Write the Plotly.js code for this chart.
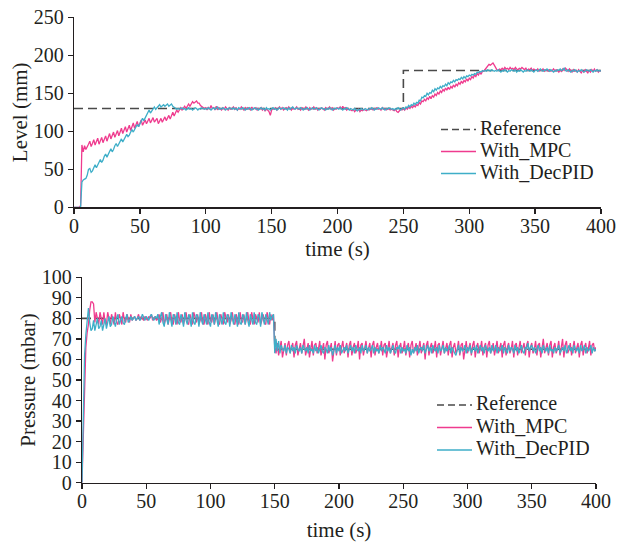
<!DOCTYPE html>
<html>
<head>
<meta charset="utf-8">
<script src="https://cdn.plot.ly/plotly-3.0.1.min.js"></script>
<style>html,body{margin:0;padding:0;background:#fff}#chart{width:618px;height:543px}</style>
</head>
<body>
<div id="chart"></div>
<script>
// Time sampling: 1 s, from 0 to 400 s
const seriesNames = ["Reference", "With_MPC", "With_DecPID"];
const xTicks = [0, 50, 100, 150, 200, 250, 300, 350, 400];

// Level reference (mm)
const refLevelT = [0, 250, 250, 400];
const refLevelV = [130, 130, 180, 180];

// Level with MPC (mm), t = 0..400 s
const levelMPC = [
0,0,0,0,0,2,82,73,81,76,
79,83,87,80,84,89,82,86,91,83,
88,92,85,90,94,87,92,97,90,94,
99,92,97,101,94,99,104,97,101,106,
99,104,108,101,106,111,104,108,113,106,
110,115,108,112,115,110,113,117,111,115,
118,112,114,117,110,113,117,112,115,119,
114,118,121,116,120,125,120,124,128,125,
128,131,128,130,133,130,133,136,133,136,
139,137,139,140,137,137,134,133,131,130,
131,128,132,129,134,130,131,128,133,129,
131,130,128,131,129,132,130,128,131,129,
130,132,129,131,128,130,129,132,130,128,
131,129,131,130,128,132,129,130,131,128,
130,129,131,128,130,127,129,128,126,121,
128,130,129,131,128,130,132,129,131,128,
130,131,129,132,130,128,131,129,130,132,
129,130,128,131,130,129,132,130,128,131,
129,130,132,129,131,128,130,129,131,130,
128,131,129,130,132,129,131,128,130,129,
131,130,132,129,133,130,131,128,130,129,
128,127,129,126,128,127,129,126,128,127,
129,128,127,129,128,130,129,128,130,129,
131,129,130,128,131,129,130,128,129,130,
128,129,128,127,129,126,125,127,129,128,
130,128,131,129,132,130,133,131,134,132,
135,134,138,136,140,139,142,140,144,142,
146,143,147,145,149,147,151,149,153,151,
155,153,157,154,158,155,159,157,161,158,
162,160,164,162,166,163,167,165,169,166,
170,168,172,170,174,172,176,174,178,175,
179,179,181,183,186,188,187,189,190,187,
184,181,180,182,181,183,181,184,182,183,
181,184,182,183,181,184,182,181,183,182,
184,182,181,183,180,182,181,183,180,182,
181,180,182,179,181,180,182,179,181,180,
179,181,179,180,182,179,181,180,178,181,
179,182,180,183,181,179,182,180,178,181,
179,180,178,181,179,177,180,178,181,179,
177,180,178,181,179,182,179,181,178,180,
179];

// Level with DecPID (mm), t = 0..400 s
const levelPID = [
0,0,0,0,0,0,33,36,37,38,
42,50,51,46,48,53,56,52,55,60,
63,59,62,67,70,66,69,74,77,73,
76,81,84,80,83,88,90,86,89,93,
96,93,95,99,102,99,102,106,109,106,
110,114,117,114,118,122,126,128,124,127,
130,132,129,131,134,135,132,134,135,133,
135,136,133,135,136,133,132,131,129,130,
129,130,131,129,130,128,130,131,129,130,
128,129,131,130,128,130,129,131,130,129,
130,129,131,130,128,130,131,129,130,132,
129,130,129,131,130,128,130,129,131,130,
129,131,129,130,128,131,130,129,131,130,
128,130,129,131,130,128,130,131,129,130,
128,130,131,129,130,128,131,129,130,128,
130,131,129,130,128,130,131,129,130,131,
129,130,128,131,129,130,132,130,129,131,
130,129,131,130,128,130,129,131,130,128,
130,131,129,130,131,129,128,130,131,129,
130,128,130,129,131,130,128,130,129,131,
130,129,131,130,128,130,129,131,130,128,
130,129,128,130,129,127,129,128,130,129,
128,130,129,128,130,129,131,130,128,130,
129,131,130,129,131,130,128,130,129,131,
130,129,130,128,130,129,131,129,128,130,
131,129,132,131,134,132,135,134,137,135,
138,137,141,140,145,144,147,146,150,148,
151,150,154,152,156,154,157,156,159,157,
160,159,162,160,164,162,165,164,167,165,
168,167,169,168,171,169,172,170,173,172,
174,173,175,174,176,175,178,177,179,178,
180,179,180,179,181,180,179,181,180,179,
180,179,181,180,178,180,179,181,180,178,
180,179,181,180,179,181,178,180,179,181,
180,178,180,179,181,180,179,181,180,178,
180,181,179,180,182,180,179,181,180,182,
181,179,181,180,178,180,179,181,180,182,
180,181,183,180,179,181,180,178,180,179,
181,180,178,180,179,181,180,178,179,181,
180,179,181,180,178,180,179,181,179,180,
179];

// Pressure reference (mbar)
const refPresT = [0, 150, 150, 400];
const refPresV = [80, 80, 65, 65];

// Pressure with MPC (mbar), t = 0..400 s
const presMPC = [
0,22,48,66,73,77,84,88,88,87,
78,83,80,77,83,79,77,83,78,77,
83,80,77,82,79,77,83,78,77,82,
80,77,83,79,78,82,80,78,82,79,
80,81,79,80,82,79,81,80,79,81,
80,79,81,80,82,79,80,81,79,80,
82,78,80,83,77,79,82,77,80,83,
78,77,82,80,77,83,79,78,82,77,
80,83,78,77,82,79,77,83,80,78,
82,77,79,83,78,77,82,80,77,83,
79,78,82,77,80,83,78,77,82,79,
77,83,80,78,82,77,79,83,78,77,
82,80,77,83,79,78,82,77,80,83,
78,77,83,79,77,82,80,78,83,77,
79,82,78,77,83,80,77,82,79,82,
66,63,68,62,66,69,61,65,68,62,
67,69,63,66,68,61,67,69,62,65,
68,63,67,70,62,66,68,61,66,69,
62,67,68,63,65,69,62,66,68,60,
67,69,63,65,68,59,66,69,62,67,
68,62,66,69,63,65,68,61,67,69,
62,66,68,63,65,69,60,67,68,62,
66,69,63,65,68,61,67,69,62,66,
68,63,65,69,62,67,68,61,66,69,
63,65,68,62,67,69,61,66,68,63,
65,69,62,66,68,61,67,69,63,65,
68,62,66,69,63,65,68,60,67,69,
62,66,68,63,65,69,61,67,68,62,
66,69,63,65,68,62,67,69,61,66,
68,63,65,69,62,67,68,60,66,69,
63,65,68,62,67,69,61,66,68,63,
65,69,62,66,68,61,67,69,63,65,
68,62,66,69,63,65,68,61,67,69,
62,66,68,63,65,69,61,67,68,62,
66,69,63,65,68,62,67,69,61,66,
68,63,65,69,62,67,68,61,66,70,
63,65,68,62,67,69,61,66,68,63,
65,69,62,66,70,61,67,69,63,65,
68,62,66,69,63,65,68,61,67,69,
62,66,68,63,65,69,62,67,68,64,
66];

// Pressure with DecPID (mbar), t = 0..400 s
const presPID = [
0,35,62,72,78,85,78,74,75,79,
74,77,80,75,76,79,74,77,80,75,
78,81,76,77,81,78,76,80,82,77,
79,81,78,77,80,82,78,79,81,79,
80,81,79,80,81,79,80,82,80,79,
81,80,79,81,82,80,79,81,80,82,
77,81,83,78,76,82,80,77,83,79,
76,82,81,77,83,78,77,82,80,76,
83,79,77,82,80,76,83,78,77,82,
81,76,83,79,77,82,80,77,83,78,
76,82,81,77,83,79,76,82,80,77,
83,78,77,82,81,76,83,79,77,82,
80,76,83,78,77,82,81,77,83,79,
76,82,80,77,83,78,77,82,81,76,
83,79,77,82,80,77,83,79,81,82,
63,70,64,69,63,67,65,64,67,63,
66,65,63,67,64,66,63,67,65,64,
66,63,67,65,64,66,63,67,64,65,
63,67,64,66,63,65,67,64,63,66,
65,63,67,64,66,62,65,67,63,66,
64,67,63,65,66,64,67,63,65,67,
64,66,63,67,65,64,66,63,67,64,
65,67,63,66,64,65,67,63,66,64,
65,63,67,64,66,65,63,67,64,66,
63,65,67,64,63,66,65,67,63,66,
64,65,63,67,64,66,62,65,63,66,
64,67,63,65,66,64,67,63,65,67,
64,66,63,67,65,64,66,63,67,64,
65,67,63,66,64,65,67,63,66,64,
63,62,65,67,63,66,64,65,67,63,
66,64,67,63,65,66,64,67,63,65,
67,64,66,63,67,65,64,66,63,67,
64,65,67,63,66,64,65,67,63,66,
64,63,67,64,66,65,63,67,64,66,
63,65,67,64,63,66,65,68,64,66,
67,64,66,63,65,67,64,66,63,67,
65,64,66,63,67,64,65,63,66,64,
65,67,63,65,66,64,67,63,65,67,
64,66,63,67,65,64,66,63,67,64,
65,67,63,66,64,65,67,63,66,64,
65];

const FONT = "Liberation Serif, Times New Roman, serif";
const INK = "#231f20";
const PINK = "#ef3b8e";
const CYAN = "#3eaec8";
const DASH = "#4a4a4a";
const DASHSTYLE = "9px,5px";
const COLORS = [DASH, PINK, CYAN];

const traces = [
  {x: refLevelT, y: refLevelV, name: seriesNames[0], mode: "lines",
   line: {color: DASH, width: 1.6, dash: DASHSTYLE}, xaxis: "x", yaxis: "y"},
  {x0: 0, dx: 1, y: levelMPC, name: seriesNames[1], mode: "lines",
   line: {color: PINK, width: 1.3}, xaxis: "x", yaxis: "y"},
  {x0: 0, dx: 1, y: levelPID, name: seriesNames[2], mode: "lines",
   line: {color: CYAN, width: 1.3}, xaxis: "x", yaxis: "y"},
  {x: refPresT, y: refPresV, name: seriesNames[0], mode: "lines",
   line: {color: DASH, width: 1.6, dash: DASHSTYLE}, xaxis: "x2", yaxis: "y2"},
  {x0: 0, dx: 1, y: presMPC, name: seriesNames[1], mode: "lines",
   line: {color: PINK, width: 1.3}, xaxis: "x2", yaxis: "y2"},
  {x0: 0, dx: 1, y: presPID, name: seriesNames[2], mode: "lines",
   line: {color: CYAN, width: 1.3}, xaxis: "x2", yaxis: "y2"}
];

const axisBase = {
  showgrid: false, zeroline: false, showline: true, linecolor: INK, linewidth: 1.3,
  ticks: "outside", ticklen: 5, tickwidth: 1.3, tickcolor: INK,
  tickfont: {family: FONT, size: 20, color: INK}, mirror: false
};

// Hand-placed legends (one per panel), in pixel positions of the 618x543 page
const W = 618, H = 543;
const legendBoxes = [
  {x0: 441, x1: 476, textX: 479, rows: [129.5, 151.5, 173.5]},
  {x0: 437, x1: 472, textX: 475, rows: [405, 427.5, 450]}
];
const shapes = [];
const annotations = [];
legendBoxes.forEach(function (lb) {
  lb.rows.forEach(function (py, i) {
    shapes.push({type: "line", xref: "paper", yref: "paper",
      x0: lb.x0 / W, x1: lb.x1 / W, y0: 1 - py / H, y1: 1 - py / H,
      line: {color: COLORS[i], width: 1.6, dash: i === 0 ? "7px,4px" : "solid"}});
    annotations.push({xref: "paper", yref: "paper", x: lb.textX / W, y: 1 - (py - 2) / H,
      xanchor: "left", yanchor: "middle", showarrow: false, text: seriesNames[i],
      height: 22, borderpad: 0, valign: "middle",
      font: {family: FONT, size: 20, color: INK}});
  });
});

const layout = {
  width: 618, height: 543,
  margin: {l: 0, r: 0, t: 0, b: 0},
  paper_bgcolor: "#ffffff", plot_bgcolor: "#ffffff",
  font: {family: FONT, color: INK, size: 20},
  showlegend: false,
  xaxis: Object.assign({}, axisBase, {
    domain: [74/618, 601/618], range: [0, 400], tickvals: xTicks, anchor: "y",
    ticklabelstandoff: -5,
    title: {text: "time (s)", font: {family: FONT, size: 21, color: INK}, standoff: 1}
  }),
  yaxis: Object.assign({}, axisBase, {
    domain: [1 - 207.3/543, 1 - 17.3/543], range: [0, 250], dtick: 50, anchor: "x",
    title: {text: "Level (mm)", font: {family: FONT, size: 21, color: INK}, standoff: 0}
  }),
  xaxis2: Object.assign({}, axisBase, {
    domain: [82/618, 596/618], range: [0, 400], tickvals: xTicks, anchor: "y2",
    ticklabelstandoff: -5,
    title: {text: "time (s)", font: {family: FONT, size: 21, color: INK}, standoff: 11}
  }),
  yaxis2: Object.assign({}, axisBase, {
    domain: [1 - 482.7/543, 1 - 277.3/543], range: [0, 100], dtick: 10, anchor: "x2",
    title: {text: "Pressure (mbar)", font: {family: FONT, size: 21, color: INK}, standoff: 0}
  }),
  shapes: shapes,
  annotations: annotations
};

Plotly.newPlot("chart", traces, layout, {displayModeBar: false, staticPlot: true});
</script>
</body>
</html>
